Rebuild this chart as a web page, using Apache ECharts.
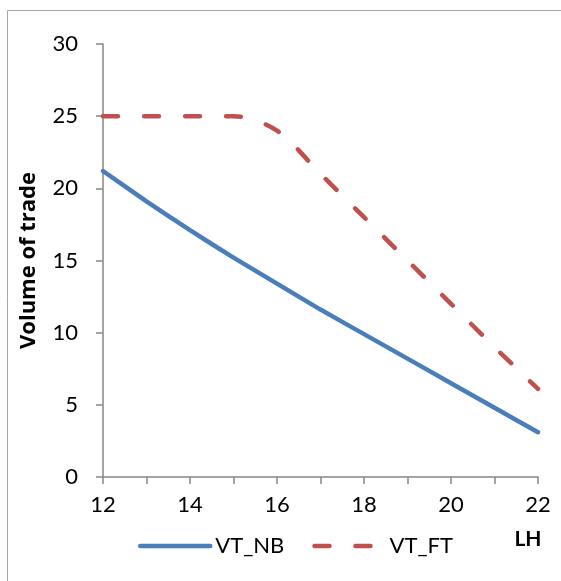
<!DOCTYPE html>
<html>
<head>
<meta charset="utf-8">
<script src="https://cdn.jsdelivr.net/npm/echarts@6/dist/echarts.min.js"></script>
<style>
html,body{margin:0;padding:0;background:#fff;}
#chart{width:561px;height:581px;}
</style>
</head>
<body>
<div id="chart"></div>
<script>
const categories = [12, 13, 14, 15, 16, 17, 18, 19, 20, 21, 22];
const vtNB = [21.2, 19.1, 17.1, 15.2, 13.4, 11.6, 9.9, 8.2, 6.5, 4.8, 3.1];
const vtFT = [25, 25, 25, 25, 24, 21, 18, 15, 12, 9, 6.1];
const seriesNames = ['VT_NB', 'VT_FT'];
const yTicks = [0, 5, 10, 15, 20, 25, 30];

const FONT = 'Lato, "Liberation Sans", sans-serif';
const chart = echarts.init(document.getElementById('chart'), null, {renderer: 'canvas'});

const option = {
  animation: false,
  backgroundColor: '#ffffff',
  textStyle: {fontFamily: FONT},
  graphic: [{
    type: 'rect',
    shape: {x: 7.5, y: 10.5, width: 600, height: 600},
    style: {fill: 'none', stroke: '#a6a6a6', lineWidth: 1},
    z: -1
  }],
  grid: {left: 103, right: 23, top: 44, bottom: 104, containLabel: false},
  legend: {
    bottom: 19,
    left: 133,
    itemWidth: 70,
    itemHeight: 14,
    itemGap: 28,
    itemStyle: {opacity: 0},
    lineStyle: {width: 4.5, cap: 'round'},
    textStyle: {fontFamily: FONT, fontSize: 22, color: '#000'},
    data: seriesNames
  },
  xAxis: {
    type: 'value',
    min: 12,
    max: 22,
    interval: 1,
    name: 'LH',
    nameLocation: 'end',
    nameGap: 0,
    nameTextStyle: {fontFamily: FONT, fontSize: 21, fontWeight: 'bold', color: '#000',
      align: 'center', verticalAlign: 'top', padding: [52, 20, 0, 0]},
    axisLine: {lineStyle: {color: '#868686', width: 1.5}},
    axisTick: {show: true, inside: false, length: 7, lineStyle: {color: '#868686', width: 1.5}},
    axisLabel: {
      fontFamily: FONT, fontSize: 22, color: '#000', margin: 17,
      formatter: function (v) { return v % 2 === 0 ? String(v) : ''; }
    },
    splitLine: {show: false}
  },
  yAxis: {
    type: 'value',
    min: yTicks[0],
    max: yTicks[yTicks.length - 1],
    interval: 5,
    name: 'Volume of trade',
    nameLocation: 'middle',
    nameGap: 63,
    nameRotate: 90,
    nameTextStyle: {fontFamily: '"Open Sans", Lato, sans-serif', fontSize: 22, fontWeight: 'bold', color: '#000'},
    axisLine: {show: true, lineStyle: {color: '#868686', width: 1.5}},
    axisTick: {show: true, inside: false, length: 7, lineStyle: {color: '#868686', width: 1.5}},
    axisLabel: {fontFamily: FONT, fontSize: 22, color: '#000', margin: 25},
    splitLine: {show: false}
  },
  series: [
    {
      name: seriesNames[0],
      type: 'line',
      data: categories.map((c, i) => [c, vtNB[i]]),
      symbol: 'none',
      smooth: 0.2,
      lineStyle: {color: '#4a7ebb', width: 4.5, cap: 'round'},
      itemStyle: {color: '#4a7ebb'}
    },
    {
      name: seriesNames[1],
      type: 'line',
      data: categories.map((c, i) => [c, vtFT[i]]),
      symbol: 'none',
      smooth: 0.3,
      lineStyle: {color: '#c0504d', width: 4.5, type: [15, 26], cap: 'round'},
      itemStyle: {color: '#c0504d'}
    }
  ]
};
chart.setOption(option);
</script>
</body>
</html>
